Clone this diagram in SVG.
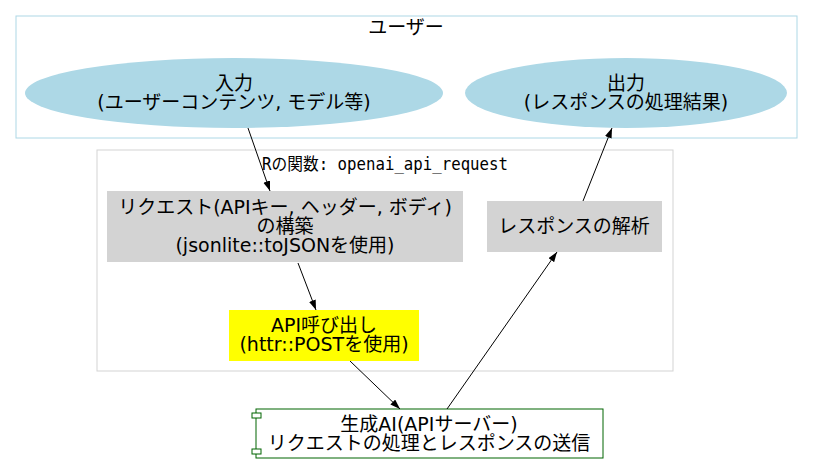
<svg xmlns="http://www.w3.org/2000/svg" width="813" height="465" viewBox="0 0 813 465">
<defs>
<marker id="ah" markerWidth="10" markerHeight="8" refX="10" refY="3.5" orient="auto" markerUnits="userSpaceOnUse">
<path d="M0,0 L10,3.5 L0,7 Z" fill="#000"/>
</marker>
</defs>
<style>
text{font-family:"DejaVu Sans","Noto Sans CJK JP",sans-serif;font-size:19px;text-anchor:middle;fill:#000}
.mono{font-family:"DejaVu Sans Mono","Noto Sans CJK JP",monospace;font-size:17px}
.edge{stroke:#000;stroke-width:1;fill:none;marker-end:url(#ah)}
</style>
<rect width="813" height="465" fill="#fff"/>
<g id="cluster_user">
<rect x="16" y="16" width="781" height="122" fill="none" stroke="#add8e6"/>
<text x="406" y="34">ユーザー</text>
</g>
<g id="cluster_r">
<rect x="97" y="150" width="576" height="221" fill="none" stroke="#d3d3d3"/>
<text class="mono" x="385" y="170" textLength="246" lengthAdjust="spacingAndGlyphs">Rの関数: openai_api_request</text>
</g>
<g id="input">
<ellipse cx="234" cy="93" rx="209" ry="35" fill="#add8e6"/>
<text x="234" y="90">入力</text>
<text x="234" y="109">(ユーザーコンテンツ, モデル等)</text>
</g>
<g id="output">
<ellipse cx="626" cy="93" rx="161" ry="35" fill="#add8e6"/>
<text x="626" y="90">出力</text>
<text x="626" y="109">(レスポンスの処理結果)</text>
</g>
<g id="build">
<rect x="107" y="191" width="356" height="71" fill="#d3d3d3"/>
<text x="285" y="214">リクエスト(APIキー, ヘッダー, ボディ)</text>
<text x="285" y="233">の構築</text>
<text x="285" y="252">(jsonlite::toJSONを使用)</text>
</g>
<g id="parse">
<rect x="487" y="201" width="175" height="51" fill="#d3d3d3"/>
<text x="574" y="233">レスポンスの解析</text>
</g>
<g id="call">
<rect x="229" y="310" width="190" height="51" fill="#ffff00"/>
<text x="324" y="332">API呼び出し</text>
<text x="324" y="351">(httr::POSTを使用)</text>
</g>
<g id="ai">
<rect x="256" y="409" width="347" height="49" fill="#fff" stroke="#006400"/>
<rect x="252" y="413" width="9" height="5" fill="#fff" stroke="#006400"/>
<rect x="252" y="449" width="9" height="5" fill="#fff" stroke="#006400"/>
<text x="429" y="431">生成AI(APIサーバー)</text>
<text x="429" y="450">リクエストの処理とレスポンスの送信</text>
</g>
<g id="edges">
<line class="edge" x1="248" y1="128" x2="270" y2="191"/>
<line class="edge" x1="298" y1="263" x2="316" y2="310"/>
<line class="edge" x1="350" y1="361" x2="400" y2="409"/>
<line class="edge" x1="447" y1="409" x2="557" y2="252"/>
<line class="edge" x1="583" y1="201" x2="612" y2="128"/>
</g>
</svg>
